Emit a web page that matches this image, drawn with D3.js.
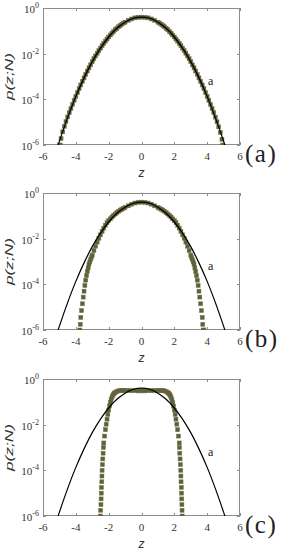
<!DOCTYPE html>
<html>
<head>
<meta charset="utf-8">
<script src="https://cdn.jsdelivr.net/npm/d3@7/dist/d3.min.js"></script>
<style>
  body { margin: 0; background: #fff; }
  svg { display: block; }
</style>
</head>
<body>
<script>
// ticks
var xTicks = [-6, -4, -2, 0, 2, 4, 6];
var yExp = [0, -2, -4, -6]; // labelled decades, 10^k
var panelNames = ["(a)", "(b)", "(c)"];

// curve "a" : [z, log10 p]
var curveA = [[-5.1,-6.05],[-5,-5.83],[-4.5,-4.80],[-4,-3.87],[-3.5,-3.06],[-3,-2.35],[-2.5,-1.76],[-2,-1.27],
  [-1.5,-0.89],[-1,-0.62],[-0.5,-0.45],[0,-0.40],[0.5,-0.45],[1,-0.62],[1.5,-0.89],[2,-1.27],[2.5,-1.76],
  [3,-2.35],[3.5,-3.06],[4,-3.87],[4.5,-4.80],[5,-5.83],[5.1,-6.05]];

// data, panel (a) : [z, log10 p]
var dataA = [[-5.0,-6.0],[-4.95,-6.0],[-4.9,-5.72],[-4.8,-5.42],[-4.7,-5.18],[-4.6,-4.97],[-4.5,-4.77],[-4.4,-4.58],
  [-4.3,-4.40],[-4.2,-4.22],[-4.1,-4.04],[-4.0,-3.87],[-3.9,-3.70],[-3.8,-3.53],[-3.7,-3.37],[-3.6,-3.21],
  [-3.5,-3.06],[-3.4,-2.91],[-3.3,-2.76],[-3.2,-2.62],[-3.1,-2.49],[-3.0,-2.35],[-2.9,-2.22],[-2.8,-2.10],
  [-2.7,-1.98],[-2.6,-1.87],[-2.5,-1.76],[-2.4,-1.65],[-2.3,-1.55],[-2.2,-1.45],[-2.1,-1.36],[-2.0,-1.27],
  [-1.9,-1.18],[-1.8,-1.10],[-1.7,-1.03],[-1.6,-0.95],[-1.5,-0.89],[-1.4,-0.82],[-1.3,-0.77],[-1.2,-0.71],
  [-1.1,-0.66],[-1.0,-0.62],[-0.8,-0.54],[-0.6,-0.48],[-0.4,-0.43],[-0.2,-0.41],[0,-0.40],[0.2,-0.41],
  [0.4,-0.43],[0.6,-0.48],[0.8,-0.54],[1.0,-0.62],[1.1,-0.66],[1.2,-0.71],[1.3,-0.77],[1.4,-0.82],[1.5,-0.89],
  [1.6,-0.95],[1.7,-1.03],[1.8,-1.10],[1.9,-1.18],[2.0,-1.27],[2.1,-1.36],[2.2,-1.45],[2.3,-1.55],[2.4,-1.65],
  [2.5,-1.76],[2.6,-1.87],[2.7,-1.98],[2.8,-2.10],[2.9,-2.22],[3.0,-2.35],[3.1,-2.49],[3.2,-2.62],[3.3,-2.76],
  [3.4,-2.91],[3.5,-3.06],[3.6,-3.21],[3.7,-3.37],[3.8,-3.53],[3.9,-3.70],[4.0,-3.87],[4.1,-4.04],[4.2,-4.22],
  [4.3,-4.40],[4.4,-4.58],[4.5,-4.78],[4.6,-4.98],[4.7,-5.20],[4.8,-5.45],[4.9,-5.75],[4.95,-6.0]];

// data, panel (b)
var dataB = [[-3.76,-6.0],[-3.73,-5.75],[-3.7,-5.45],[-3.65,-5.15],[-3.6,-4.85],[-3.55,-4.56],[-3.5,-4.30],
  [-3.45,-4.05],[-3.4,-3.82],[-3.35,-3.62],[-3.3,-3.44],[-3.25,-3.28],[-3.2,-3.12],[-3.15,-3.02],[-3.1,-2.92],
  [-3.05,-2.82],[-3.0,-2.72],[-2.9,-2.52],[-2.8,-2.33],[-2.7,-2.15],[-2.6,-1.98],[-2.5,-1.83],[-2.4,-1.68],
  [-2.3,-1.54],[-2.2,-1.41],[-2.1,-1.30],[-2.0,-1.21],[-1.9,-1.13],[-1.8,-1.05],[-1.7,-0.98],[-1.6,-0.92],
  [-1.5,-0.86],[-1.4,-0.80],[-1.3,-0.75],[-1.2,-0.71],[-1.1,-0.67],[-1.0,-0.63],[-0.8,-0.56],[-0.6,-0.49],
  [-0.4,-0.44],[-0.2,-0.41],[0,-0.40],[0.2,-0.41],[0.4,-0.44],[0.6,-0.49],[0.8,-0.56],[1.0,-0.63],[1.1,-0.67],
  [1.2,-0.71],[1.3,-0.75],[1.4,-0.80],[1.5,-0.86],[1.6,-0.92],[1.7,-0.98],[1.8,-1.05],[1.9,-1.13],[2.0,-1.21],
  [2.1,-1.30],[2.2,-1.41],[2.3,-1.54],[2.4,-1.68],[2.5,-1.83],[2.6,-1.98],[2.7,-2.15],[2.8,-2.33],[2.9,-2.52],
  [3.0,-2.72],[3.05,-2.82],[3.1,-2.92],[3.15,-3.02],[3.2,-3.12],[3.25,-3.28],[3.3,-3.44],[3.35,-3.62],
  [3.4,-3.82],[3.45,-4.05],[3.5,-4.30],[3.55,-4.56],[3.6,-4.85],[3.65,-5.15],[3.7,-5.45],[3.73,-5.75],
  [3.76,-6.0],[3.8,-6.0]];

// data, panel (c)
var dataC = [[-2.5,-6.0],[-2.49,-5.75],[-2.47,-5.5],[-2.46,-5.25],[-2.45,-5.0],[-2.44,-4.75],[-2.42,-4.5],
  [-2.41,-4.25],[-2.4,-4.0],[-2.38,-3.75],[-2.36,-3.5],[-2.34,-3.25],[-2.32,-3.0],[-2.3,-2.80],[-2.25,-2.50],
  [-2.2,-2.22],[-2.15,-1.98],[-2.1,-1.76],[-2.05,-1.55],[-2.0,-1.36],[-1.95,-1.18],[-1.9,-1.02],[-1.85,-0.90],
  [-1.8,-0.80],[-1.75,-0.72],[-1.7,-0.66],[-1.65,-0.62],[-1.6,-0.59],[-1.5,-0.55],[-1.4,-0.52],[-1.3,-0.51],
  [-1.2,-0.50],[-1.1,-0.50],[-1.0,-0.50],[-0.8,-0.50],[-0.6,-0.51],[-0.4,-0.51],[-0.2,-0.52],[0,-0.52],
  [0.2,-0.52],[0.4,-0.51],[0.6,-0.51],[0.8,-0.50],[1.0,-0.50],[1.1,-0.50],[1.2,-0.50],[1.3,-0.51],[1.4,-0.52],
  [1.5,-0.55],[1.6,-0.59],[1.65,-0.62],[1.7,-0.66],[1.75,-0.72],[1.8,-0.80],[1.85,-0.90],[1.9,-1.02],
  [1.95,-1.18],[2.0,-1.36],[2.05,-1.55],[2.1,-1.76],[2.15,-1.98],[2.2,-2.22],[2.25,-2.50],[2.3,-2.80],
  [2.31,-3.0],[2.33,-3.25],[2.35,-3.5],[2.37,-3.75],[2.39,-4.0],[2.4,-4.25],[2.41,-4.5],[2.43,-4.75],
  [2.44,-5.0],[2.45,-5.25],[2.46,-5.5],[2.47,-5.75],[2.48,-6.0]];

var panelData = [dataA, dataB, dataC];

var W = 282, H = 550;
var left = 43, right = 240, ph = 137;
var tops = [8, 193, 379];
var frameColor = "#8c8c8c";
var textColor = "#333";

var svg = d3.select("body").append("svg").attr("width", W).attr("height", H);

var x = d3.scaleLinear().domain([-6, 6]).range([left, right]);

// small helper, the generic family is the one that reliably gives a serif face here
function serifText (sel) {
  return sel.append("text").style("font-family", "serif");
}
function sansItalic (sel) {
  return sel.append("text").style("font-family", "'Liberation Sans', Arial, sans-serif").style("font-style", "italic");
}

panelData.forEach(function (pts, i) {
  var top = tops[i];
  var y = d3.scaleLog().domain([1e-6, 1]).range([top + ph, top]);
  var g = svg.append("g");

  var clipId = "clip" + i;
  svg.append("clipPath").attr("id", clipId)
    .append("rect").attr("x", left).attr("y", top - 2).attr("width", right - left).attr("height", ph + 2);

  // frame
  g.append("rect").attr("x", left + 0.5).attr("y", top + 0.5)
    .attr("width", right - left - 1).attr("height", ph - 1)
    .attr("fill", "none").attr("stroke", frameColor).attr("stroke-width", 1);

  // ticks (inward, mirrored)
  xTicks.forEach(function (t) {
    var xx = Math.round(x(t)) + 0.5;
    g.append("line").attr("x1", xx).attr("x2", xx).attr("y1", top + ph).attr("y2", top + ph - 3).attr("stroke", frameColor);
    g.append("line").attr("x1", xx).attr("x2", xx).attr("y1", top).attr("y2", top + 3).attr("stroke", frameColor);
    serifText(g).attr("x", x(t)).attr("y", top + ph + 15)
      .attr("text-anchor", "middle").style("font-size", "11px").attr("fill", textColor).text(t);
  });
  yExp.forEach(function (k) {
    var yy = Math.round(y(Math.pow(10, k))) + 0.5;
    g.append("line").attr("x1", left).attr("x2", left + 3).attr("y1", yy).attr("y2", yy).attr("stroke", frameColor);
    g.append("line").attr("x1", right).attr("x2", right - 3).attr("y1", yy).attr("y2", yy).attr("stroke", frameColor);
    var t = serifText(g).attr("x", 39).attr("y", y(Math.pow(10, k)) + 5)
      .attr("text-anchor", "end").attr("fill", textColor);
    t.append("tspan").style("font-size", "11px").text("10");
    t.append("tspan").style("font-size", "8px").attr("dy", -5).text(k);
  });

  // data markers
  var plot = g.append("g").attr("clip-path", "url(#" + clipId + ")");
  plot.selectAll("rect.pt").data(pts).enter().append("rect")
    .attr("class", "pt")
    .attr("x", function (d) { return x(d[0]) - 2; })
    .attr("y", function (d) { return y(Math.pow(10, d[1])) - 2; })
    .attr("width", 4).attr("height", 4)
    .attr("fill", "#4e6a3c").attr("stroke", "#8a5a3a").attr("stroke-width", 0.6).attr("stroke-opacity", 0.7);

  // curve a
  var line = d3.line()
    .x(function (d) { return x(d[0]); })
    .y(function (d) { return y(Math.pow(10, d[1])); })
    .curve(d3.curveCatmullRom);
  plot.append("path").datum(curveA).attr("d", line)
    .attr("fill", "none").attr("stroke", "#000").attr("stroke-width", 1.2);

  serifText(g).attr("x", 208).attr("y", top + 77)
    .style("font-size", "12px").attr("fill", "#111").text("a");

  // axis labels
  sansItalic(g).attr("x", x(0)).attr("y", top + ph + 32)
    .attr("text-anchor", "middle").style("font-size", "12px").attr("fill", textColor).text("z");
  sansItalic(g).attr("transform", "translate(13," + (top + ph / 2) + ") rotate(-90)")
    .attr("text-anchor", "middle").style("font-size", "11px").attr("fill", textColor)
    .attr("textLength", 47).attr("lengthAdjust", "spacingAndGlyphs").text("p(z;N)");

  serifText(g).attr("x", 245).attr("y", top + ph + 17)
    .style("font-size", "25px").style("letter-spacing", "1.5px").attr("fill", "#222").text(panelNames[i]);
});
</script>
</body>
</html>
